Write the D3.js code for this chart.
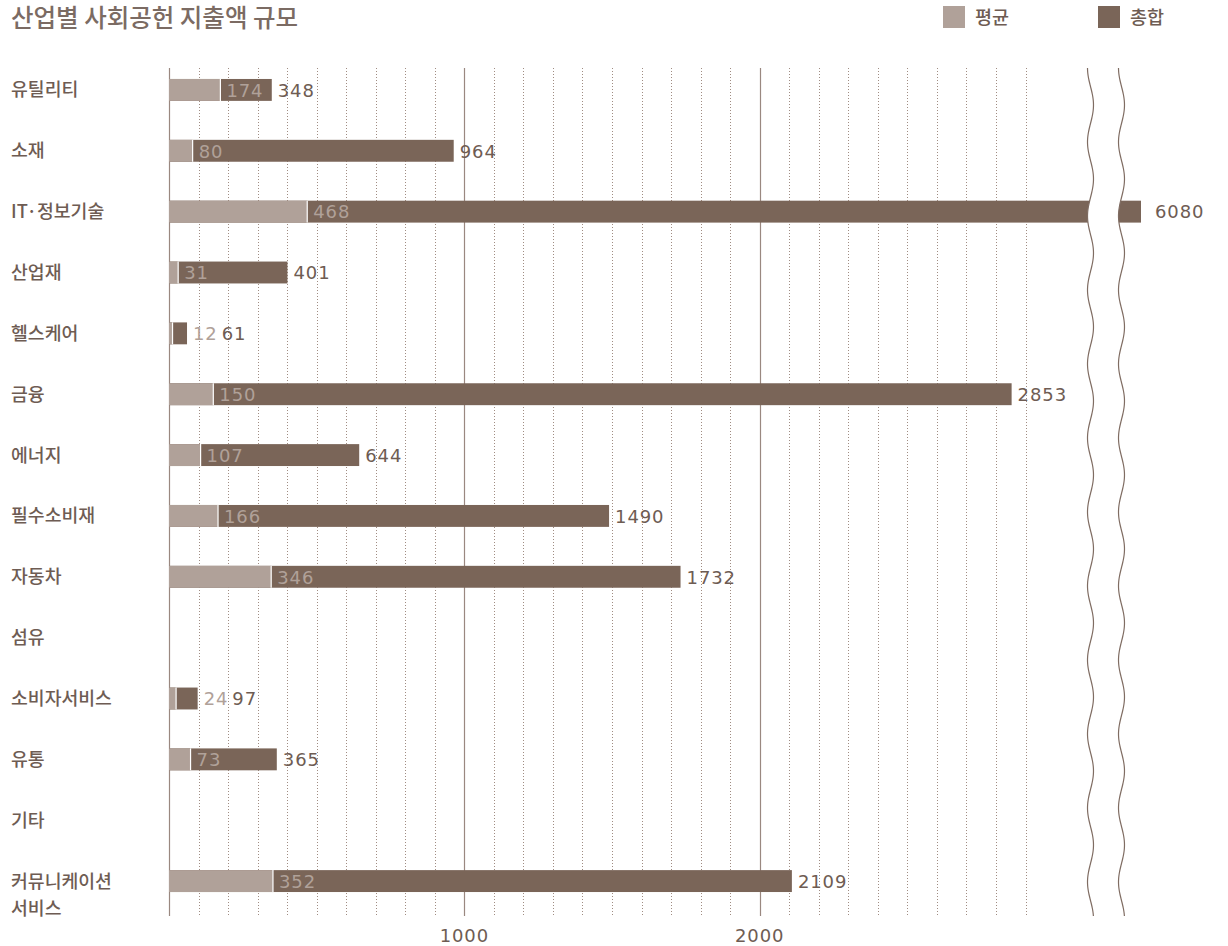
<!DOCTYPE html>
<html>
<head>
<meta charset="utf-8">
<script src="https://cdn.jsdelivr.net/npm/d3@7"></script>
<style>
  body { margin: 0; background: #fff; }
  text { font-family: "Noto Sans CJK KR", "Noto Sans", sans-serif; }
  text.num { font-family: "DejaVu Sans", sans-serif; letter-spacing: 0.9px; }
</style>
</head>
<body>
<script>
  const categories = ["유틸리티", "소재", "IT·정보기술", "산업재", "헬스케어", "금융", "에너지",
                      "필수소비재", "자동차", "섬유", "소비자서비스", "유통", "기타", "커뮤니케이션\n서비스"];
  const averages = [174, 80, 468, 31, 12, 150, 107, 166, 346, null, 24, 73, null, 352];
  const totals   = [348, 964, 6080, 401, 61, 2853, 644, 1490, 1732, null, 97, 365, null, 2109];
  const tickValues = [1000, 2000];

  const light = "#b0a199", dark = "#7a6558", textCol = "#6e5c53";
  const W = 1228, H = 946;

  const svg = d3.select("body").append("svg")
                .attr("width", W).attr("height", H);

  // broken scale: linear up to ~3100, then jump past the break
  const x = d3.scaleLinear()
              .domain([0, 3115, 6005, 6080])
              .range([169, 1089, 1120, 1141]);

  const y = d3.scaleBand()
              .domain(d3.range(categories.length))
              .range([59.5, 911.5])
              .paddingInner(0.64)
              .paddingOuter(0.32);

  const plotTop = 68, plotBottom = 916;

  // title
  svg.append("text").attr("x", 11).attr("y", 27)
     .attr("font-size", 24.5).attr("font-weight", 500).attr("fill", "#7b6b63")
     .text("산업별 사회공헌 지출액 규모");

  // legend
  const legend = [["평균", light, 943], ["총합", dark, 1098]];
  legend.forEach(([t, c, lx]) => {
    svg.append("rect").attr("x", lx).attr("y", 6).attr("width", 22).attr("height", 22).attr("fill", c);
    svg.append("text").attr("x", lx + 32).attr("y", 24).attr("font-size", 18.5)
       .attr("font-weight", 500).attr("fill", textCol).text(t);
  });

  // dotted gridlines every 100
  const minor = d3.range(100, 3100, 100).filter(v => v % 1000 !== 0);
  svg.append("g").selectAll("line").data(minor).enter().append("line")
     .attr("x1", d => Math.round(x(d)) + 0.5).attr("x2", d => Math.round(x(d)) + 0.5)
     .attr("y1", plotTop).attr("y2", plotBottom)
     .attr("stroke", "#a08c82").attr("stroke-width", 1).attr("stroke-dasharray", "1,2");

  // solid lines at 1000, 2000 and axis at 0
  svg.append("g").selectAll("line").data([0].concat(tickValues)).enter().append("line")
     .attr("x1", d => Math.round(x(d)) + 0.5).attr("x2", d => Math.round(x(d)) + 0.5)
     .attr("y1", plotTop).attr("y2", plotBottom)
     .attr("stroke", "#9a8880").attr("stroke-width", 1.2);

  // axis labels
  svg.append("g").selectAll("text").data(tickValues).enter().append("text")
     .attr("class", "num")
     .attr("x", d => x(d)).attr("y", 942).attr("text-anchor", "middle")
     .attr("font-size", 18).attr("fill", textCol).text(d => d);

  // category labels
  categories.forEach((c, i) => {
    const cy = y(i) + y.bandwidth() / 2;
    const lines = c.split("\n");
    lines.forEach((ln, j) => {
      svg.append("text").attr("x", 11).attr("y", cy + 6.5 + j * 27)
         .attr("font-size", 18.3).attr("font-weight", 500).attr("fill", textCol).text(ln);
    });
  });

  const rows = d3.range(categories.length).filter(i => totals[i] != null);

  // total bars
  svg.append("g").selectAll("rect").data(rows).enter().append("rect")
     .attr("x", x(0)).attr("y", i => y(i))
     .attr("width", i => x(totals[i]) - x(0)).attr("height", y.bandwidth())
     .attr("fill", dark);

  // average bars
  svg.append("g").selectAll("rect").data(rows).enter().append("rect")
     .attr("x", x(0)).attr("y", i => y(i))
     .attr("width", i => x(averages[i]) - x(0)).attr("height", y.bandwidth())
     .attr("fill", light);

  // white separator between the two segments
  svg.append("g").selectAll("line").data(rows).enter().append("line")
     .attr("x1", i => x(averages[i])).attr("x2", i => x(averages[i]))
     .attr("y1", i => y(i)).attr("y2", i => y(i) + y.bandwidth())
     .attr("stroke", "#fff").attr("stroke-width", 1.2);

  // labels
  rows.forEach(i => {
    const cy = y(i) + y.bandwidth() / 2 + 6.8;
    const seg = x(totals[i]) - x(averages[i]);
    let tx = x(totals[i]) + 6;
    if (seg >= 40) {
      svg.append("text").attr("class", "num").attr("x", x(averages[i]) + 6).attr("y", cy)
         .attr("font-size", 18).attr("fill", light).text(averages[i]);
    } else {
      const t = svg.append("text").attr("class", "num").attr("x", tx).attr("y", cy)
         .attr("font-size", 18).attr("fill", light).text(averages[i]);
      tx += t.node().getComputedTextLength() + 4;
    }
    if (i === 2) tx = x(totals[i]) + 14;
    svg.append("text").attr("class", "num").attr("x", tx).attr("y", cy)
       .attr("font-size", 18).attr("fill", textCol).text(totals[i]);
  });

  // scale break: two wavy lines with white between
  const period = 74, amp = 3;
  const wave = cx => d3.range(plotTop, plotBottom + 1, 2)
                       .map(yy => [cx - amp * Math.cos(2 * Math.PI * (yy - plotTop) / period), yy]);
  const w1 = wave(1090.5), w2 = wave(1121.5);
  const band = w1.concat(w2.slice().reverse());
  svg.append("path").attr("d", d3.line()(band) + "Z").attr("fill", "#fff");
  [w1, w2].forEach(w => {
    svg.append("path").attr("d", d3.line().curve(d3.curveBasis)(w))
       .attr("fill", "none").attr("stroke", "#7f6c62").attr("stroke-width", 1.2);
  });
</script>
</body>
</html>
